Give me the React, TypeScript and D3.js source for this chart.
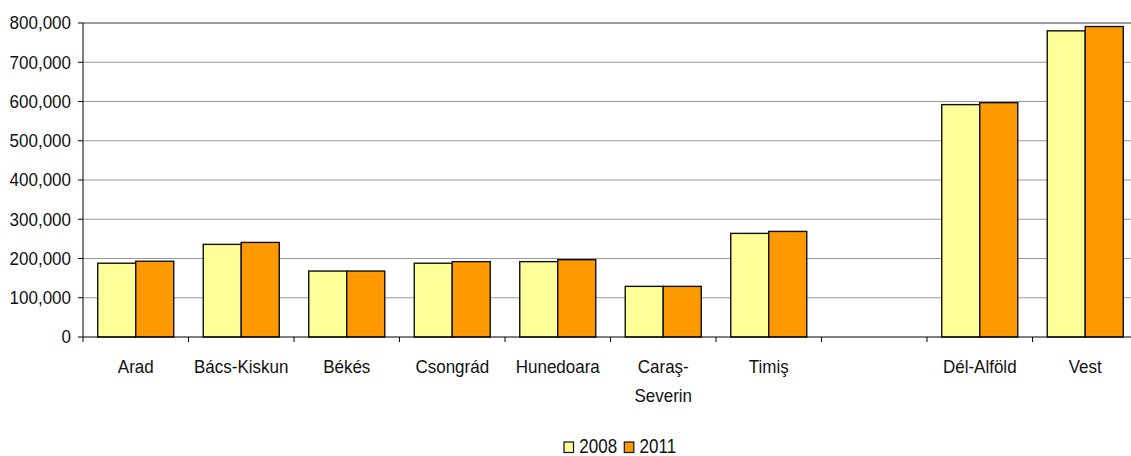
import React from "react";
import * as d3 from "d3";

const categories: string[][] = [
  ["Arad"],
  ["Bács-Kiskun"],
  ["Békés"],
  ["Csongrád"],
  ["Hunedoara"],
  ["Caraş-", "Severin"],
  ["Timiş"],
  [""],
  ["Dél-Alföld"],
  ["Vest"],
];
const values2008: (number | null)[] = [188000, 236000, 168000, 188000, 192000, 129000, 264000, null, 592000, 780000];
const values2011: (number | null)[] = [193000, 241000, 168000, 192000, 197000, 129000, 269000, null, 597000, 791000];
const seriesNames = ["2008", "2011"];
const seriesColors = ["#FFFF99", "#FF9900"];
const yTicks = [0, 100000, 200000, 300000, 400000, 500000, 600000, 700000, 800000];

const W = 1131;
const H = 456;
const left = 83;
const bandStep = 105.5;
const top = 23;
const bottom = 337;
const font = "'Liberation Sans', Arial, sans-serif";

export default function App() {
  const idx = categories.map((_, i) => String(i));
  const x = d3.scaleBand<string>().domain(idx).range([left, left + bandStep * categories.length]).padding(0);
  const xs = d3.scaleBand<string>().domain(seriesNames).range([0, x.bandwidth()]).paddingInner(0).paddingOuter(0.388);
  const y = d3.scaleLinear().domain([0, 800000]).range([bottom, top]);
  const fmt = d3.format(",");
  const series = [values2008, values2011];

  return (
    <div style={{ position: "absolute", left: 0, top: 0 }}>
      <svg width={W} height={H} style={{ display: "block", background: "#fff" }}>
        {/* gridlines */}
        {yTicks.filter((t) => t > 0).map((t) => (
          <line
            key={"g" + t}
            x1={left}
            x2={W}
            y1={y(t)}
            y2={y(t)}
            stroke={t === 800000 ? "#7a7a7a" : "#9a9a9a"}
            strokeWidth={t === 800000 ? 1.6 : 1}
          />
        ))}
        {/* bars */}
        {series.map((vals, si) =>
          vals.map((v, ci) =>
            v == null ? null : (
              <rect
                key={`b${si}-${ci}`}
                x={(x(String(ci)) as number) + (xs(seriesNames[si]) as number)}
                y={y(v)}
                width={xs.bandwidth()}
                height={y(0) - y(v)}
                fill={seriesColors[si]}
                stroke="#111"
                strokeWidth={1.4}
              />
            )
          )
        )}
        {/* y axis */}
        <line x1={left} x2={left} y1={top} y2={bottom} stroke="#000" strokeWidth={1} />
        {yTicks.map((t) => (
          <g key={"y" + t}>
            <line x1={left - 5} x2={left} y1={y(t)} y2={y(t)} stroke="#000" />
            <text
              transform={`translate(71,${y(t) + 6.4}) scale(1,1.1)`}
              textAnchor="end"
              fontFamily={font}
              fontSize={17}
              fill="#111"
            >
              {fmt(t)}
            </text>
          </g>
        ))}
        {/* x axis */}
        <line x1={left} x2={W} y1={bottom} y2={bottom} stroke="#000" strokeWidth={1.2} />
        {idx.map((k) => (
          <line key={"xt" + k} x1={x(k)} x2={x(k)} y1={bottom} y2={bottom + 5} stroke="#000" />
        ))}
        {categories.map((lines, ci) =>
          lines.map((ln, li) => (
            <text
              key={`xl${ci}-${li}`}
              transform={`translate(${(x(String(ci)) as number) + x.bandwidth() / 2},${373 + li * 28.5}) scale(1,1.1)`}
              textAnchor="middle"
              fontFamily={font}
              fontSize={17}
              fill="#111"
            >
              {ln}
            </text>
          ))
        )}
        {/* legend */}
        {seriesNames.map((s, i) => {
          const lx = 564 + i * 60.3;
          return (
            <g key={"lg" + s}>
              <rect x={lx} y={442} width={9.5} height={10.5} fill={seriesColors[i]} stroke="#111" strokeWidth={1.2} />
              <text
                transform={`translate(${lx + 15.3},452.7) scale(1,1.2)`}
                fontFamily={font}
                fontSize={17}
                fill="#111"
              >
                {s}
              </text>
            </g>
          );
        })}
      </svg>
    </div>
  );
}
